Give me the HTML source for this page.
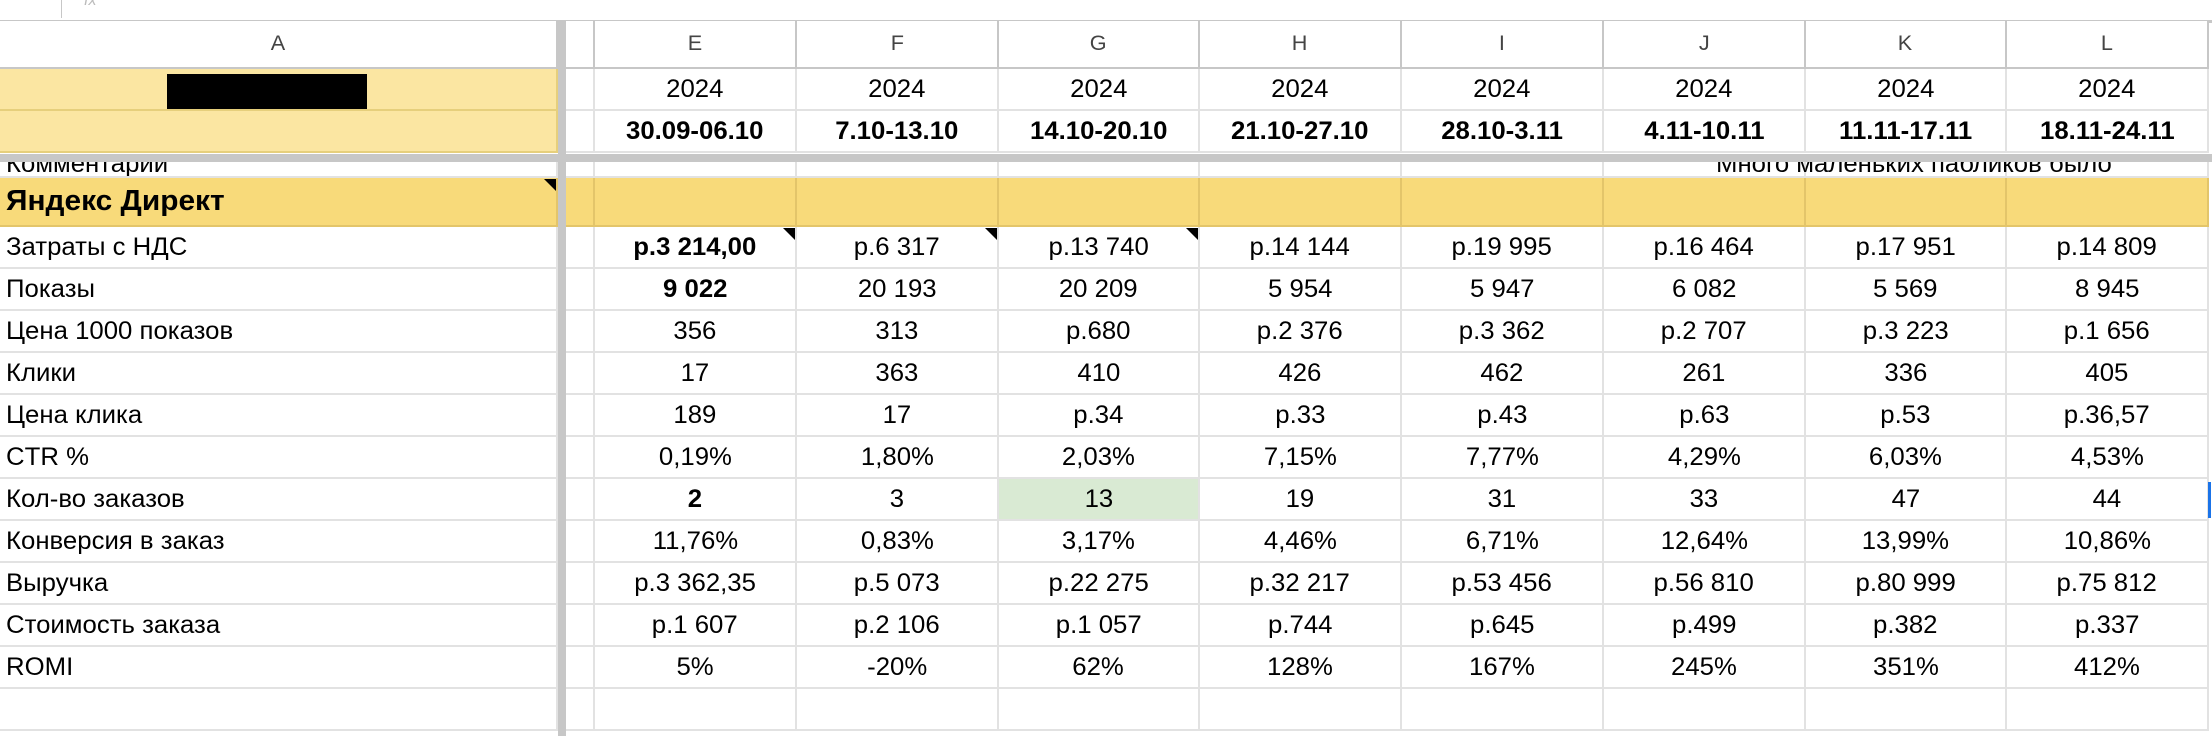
<!DOCTYPE html>
<html><head><meta charset="utf-8">
<style>
html,body{margin:0;padding:0;background:#fff;}
body{width:2212px;height:736px;position:relative;overflow:hidden;font-family:"Liberation Sans","Noto Sans CJK SC",sans-serif;color:#000;}
.c{position:absolute;box-sizing:border-box;border-right:2px solid #e2e2e2;border-bottom:2px solid #e2e2e2;display:flex;align-items:center;justify-content:center;font-size:25px;overflow:hidden;white-space:nowrap;}
.c span{display:inline-block;transform:scaleX(1.03);}
.l{justify-content:flex-start;padding-left:6px;}
.l span{transform-origin:left center;}
.b{font-weight:bold;}
.tri{position:absolute;width:0;height:0;border-top:12px solid #000;border-left:12px solid transparent;}
</style></head>
<body>
<div style="position:absolute;left:0;top:0;width:2212px;height:20px;background:#fff;border-bottom:3px solid #c7c7c7;">
<div style="position:absolute;left:61px;top:0;width:1px;height:18px;background:#c7c7c7"></div>
<div style="position:absolute;left:84px;top:-8px;font-size:16px;color:#bbb;font-style:italic">fx</div>
</div>
<div id="grid"></div>
<div style="position:absolute;left:558px;top:21px;width:8px;height:715px;background:#c7c7c7"></div>
<div style="position:absolute;left:0;top:154px;width:2212px;height:8px;background:#c7c7c7"></div>
<div style="position:absolute;left:167px;top:74px;width:200px;height:35px;background:#000"></div>
<script>
const colX=[0,566,595,797,999,1200,1402,1604,1806,2007,2209];
const rowY=[21,69,111,153,162,178,227,269,311,353,395,437,479,521,563,605,647,689,731,780];
const colLetters=["A","","E","F","G","H","I","J","K","L"];
const years=["2024","2024","2024","2024","2024","2024","2024","2024"];
const weeks=["30.09-06.10","7.10-13.10","14.10-20.10","21.10-27.10","28.10-3.11","4.11-10.11","11.11-17.11","18.11-24.11"];
const labels=["Затраты с НДС","Показы","Цена 1000 показов","Клики","Цена клика","CTR %","Кол-во заказов","Конверсия в заказ","Выручка","Стоимость заказа","ROMI"];
const values=[
["р.3 214,00","р.6 317","р.13 740","р.14 144","р.19 995","р.16 464","р.17 951","р.14 809"],
["9 022","20 193","20 209","5 954","5 947","6 082","5 569","8 945"],
["356","313","р.680","р.2 376","р.3 362","р.2 707","р.3 223","р.1 656"],
["17","363","410","426","462","261","336","405"],
["189","17","р.34","р.33","р.43","р.63","р.53","р.36,57"],
["0,19%","1,80%","2,03%","7,15%","7,77%","4,29%","6,03%","4,53%"],
["2","3","13","19","31","33","47","44"],
["11,76%","0,83%","3,17%","4,46%","6,71%","12,64%","13,99%","10,86%"],
["р.3 362,35","р.5 073","р.22 275","р.32 217","р.53 456","р.56 810","р.80 999","р.75 812"],
["р.1 607","р.2 106","р.1 057","р.744","р.645","р.499","р.382","р.337"],
["5%","-20%","62%","128%","167%","245%","351%","412%"]];
const boldRows=[0,1,6];
const g=document.getElementById('grid');
function cell(ci,y0,y1,txt,cls,bg,name){
  const d=document.createElement('div');
  d.className='c '+(cls||'');
  const x0=ci===0?0:colX[ci],x1=ci===0?558:colX[ci+1];
  d.style.left=x0+'px';d.style.top=y0+'px';d.style.width=(x1-x0)+'px';d.style.height=(y1-y0)+'px';
  if(bg)d.style.background=bg;
  if(txt!==''){const s=document.createElement('span');s.textContent=txt;d.appendChild(s);}
  
  
  g.appendChild(d);return d;
}
for(let i=0;i<10;i++){const d=cell(i,rowY[0],rowY[1],colLetters[i],'', '#fff','column-header-'+(colLetters[i]||'blank').toLowerCase());d.style.color='#444';d.style.borderColor='#c7c7c7';d.style.fontSize='21px';}
for(let i=0;i<10;i++){
  const yb=i===0?'#fbe6a2':'#fff';
  const d1=cell(i,rowY[1],rowY[2],i>=2?years[i-2]:'','',yb,'year-cell');
  const d2=cell(i,rowY[2],rowY[3],i>=2?weeks[i-2]:'','b',yb,'week-cell');
  if(i===0){d1.style.borderColor='#e6cf7c';d2.style.borderColor='#e6cf7c';}
}
for(let i=0;i<10;i++){
  const d=cell(i,rowY[4],rowY[5],'','', '#fff','comment-cell');
  if(i===0){const s=document.createElement('span');s.textContent='Комментарии';s.style.position='absolute';s.style.left='6px';s.style.top='-12px';s.style.transformOrigin='left center';d.appendChild(s);}
}
const cm=document.createElement('div');
cm.textContent='Много маленьких пабликов было';
cm.style.cssText='position:absolute;left:1716px;top:150px;font-size:25px;transform:scaleX(1.03);transform-origin:left top;white-space:nowrap;clip-path:inset(12px 0 0 0)';


document.body.appendChild(cm);
for(let i=0;i<10;i++){
  const d=cell(i,rowY[5],rowY[6],i===0?'Яндекс Директ':'',i===0?'l b':'','#f8da7a','section-header');
  d.style.borderColor='#e3c56a';
  if(i===0){d.style.fontSize='29px';}
}
for(let r=0;r<labels.length;r++){
  const y0=rowY[6+r],y1=rowY[7+r];
  cell(0,y0,y1,labels[r],'l','#fff','row-label');
  cell(1,y0,y1,'','','#fff','blank-cell');
  for(let c=0;c<8;c++){
    const bold=boldRows.includes(r)&&c===0;
    const bg=(r===6&&c===2)?'#d9ead3':'#fff';
    cell(c+2,y0,y1,values[r][c],bold?'b':'',bg,'value-cell');
  }
}
for(let i=0;i<10;i++)cell(i,rowY[17],rowY[18],'','','#fff','empty-cell');
function tri(x,y,n){const t=document.createElement('div');t.className='tri';t.style.left=(x-12)+'px';t.style.top=y+'px';


document.body.appendChild(t);}
tri(556,179,'note-marker');tri(795,228,'note-marker');tri(997,228,'note-marker');tri(1198,228,'note-marker');
const bm=document.createElement('div');bm.style.cssText='position:absolute;left:2208px;top:482px;width:3px;height:36px;background:#1a73e8';


document.body.appendChild(bm);
</script>
</body></html>
